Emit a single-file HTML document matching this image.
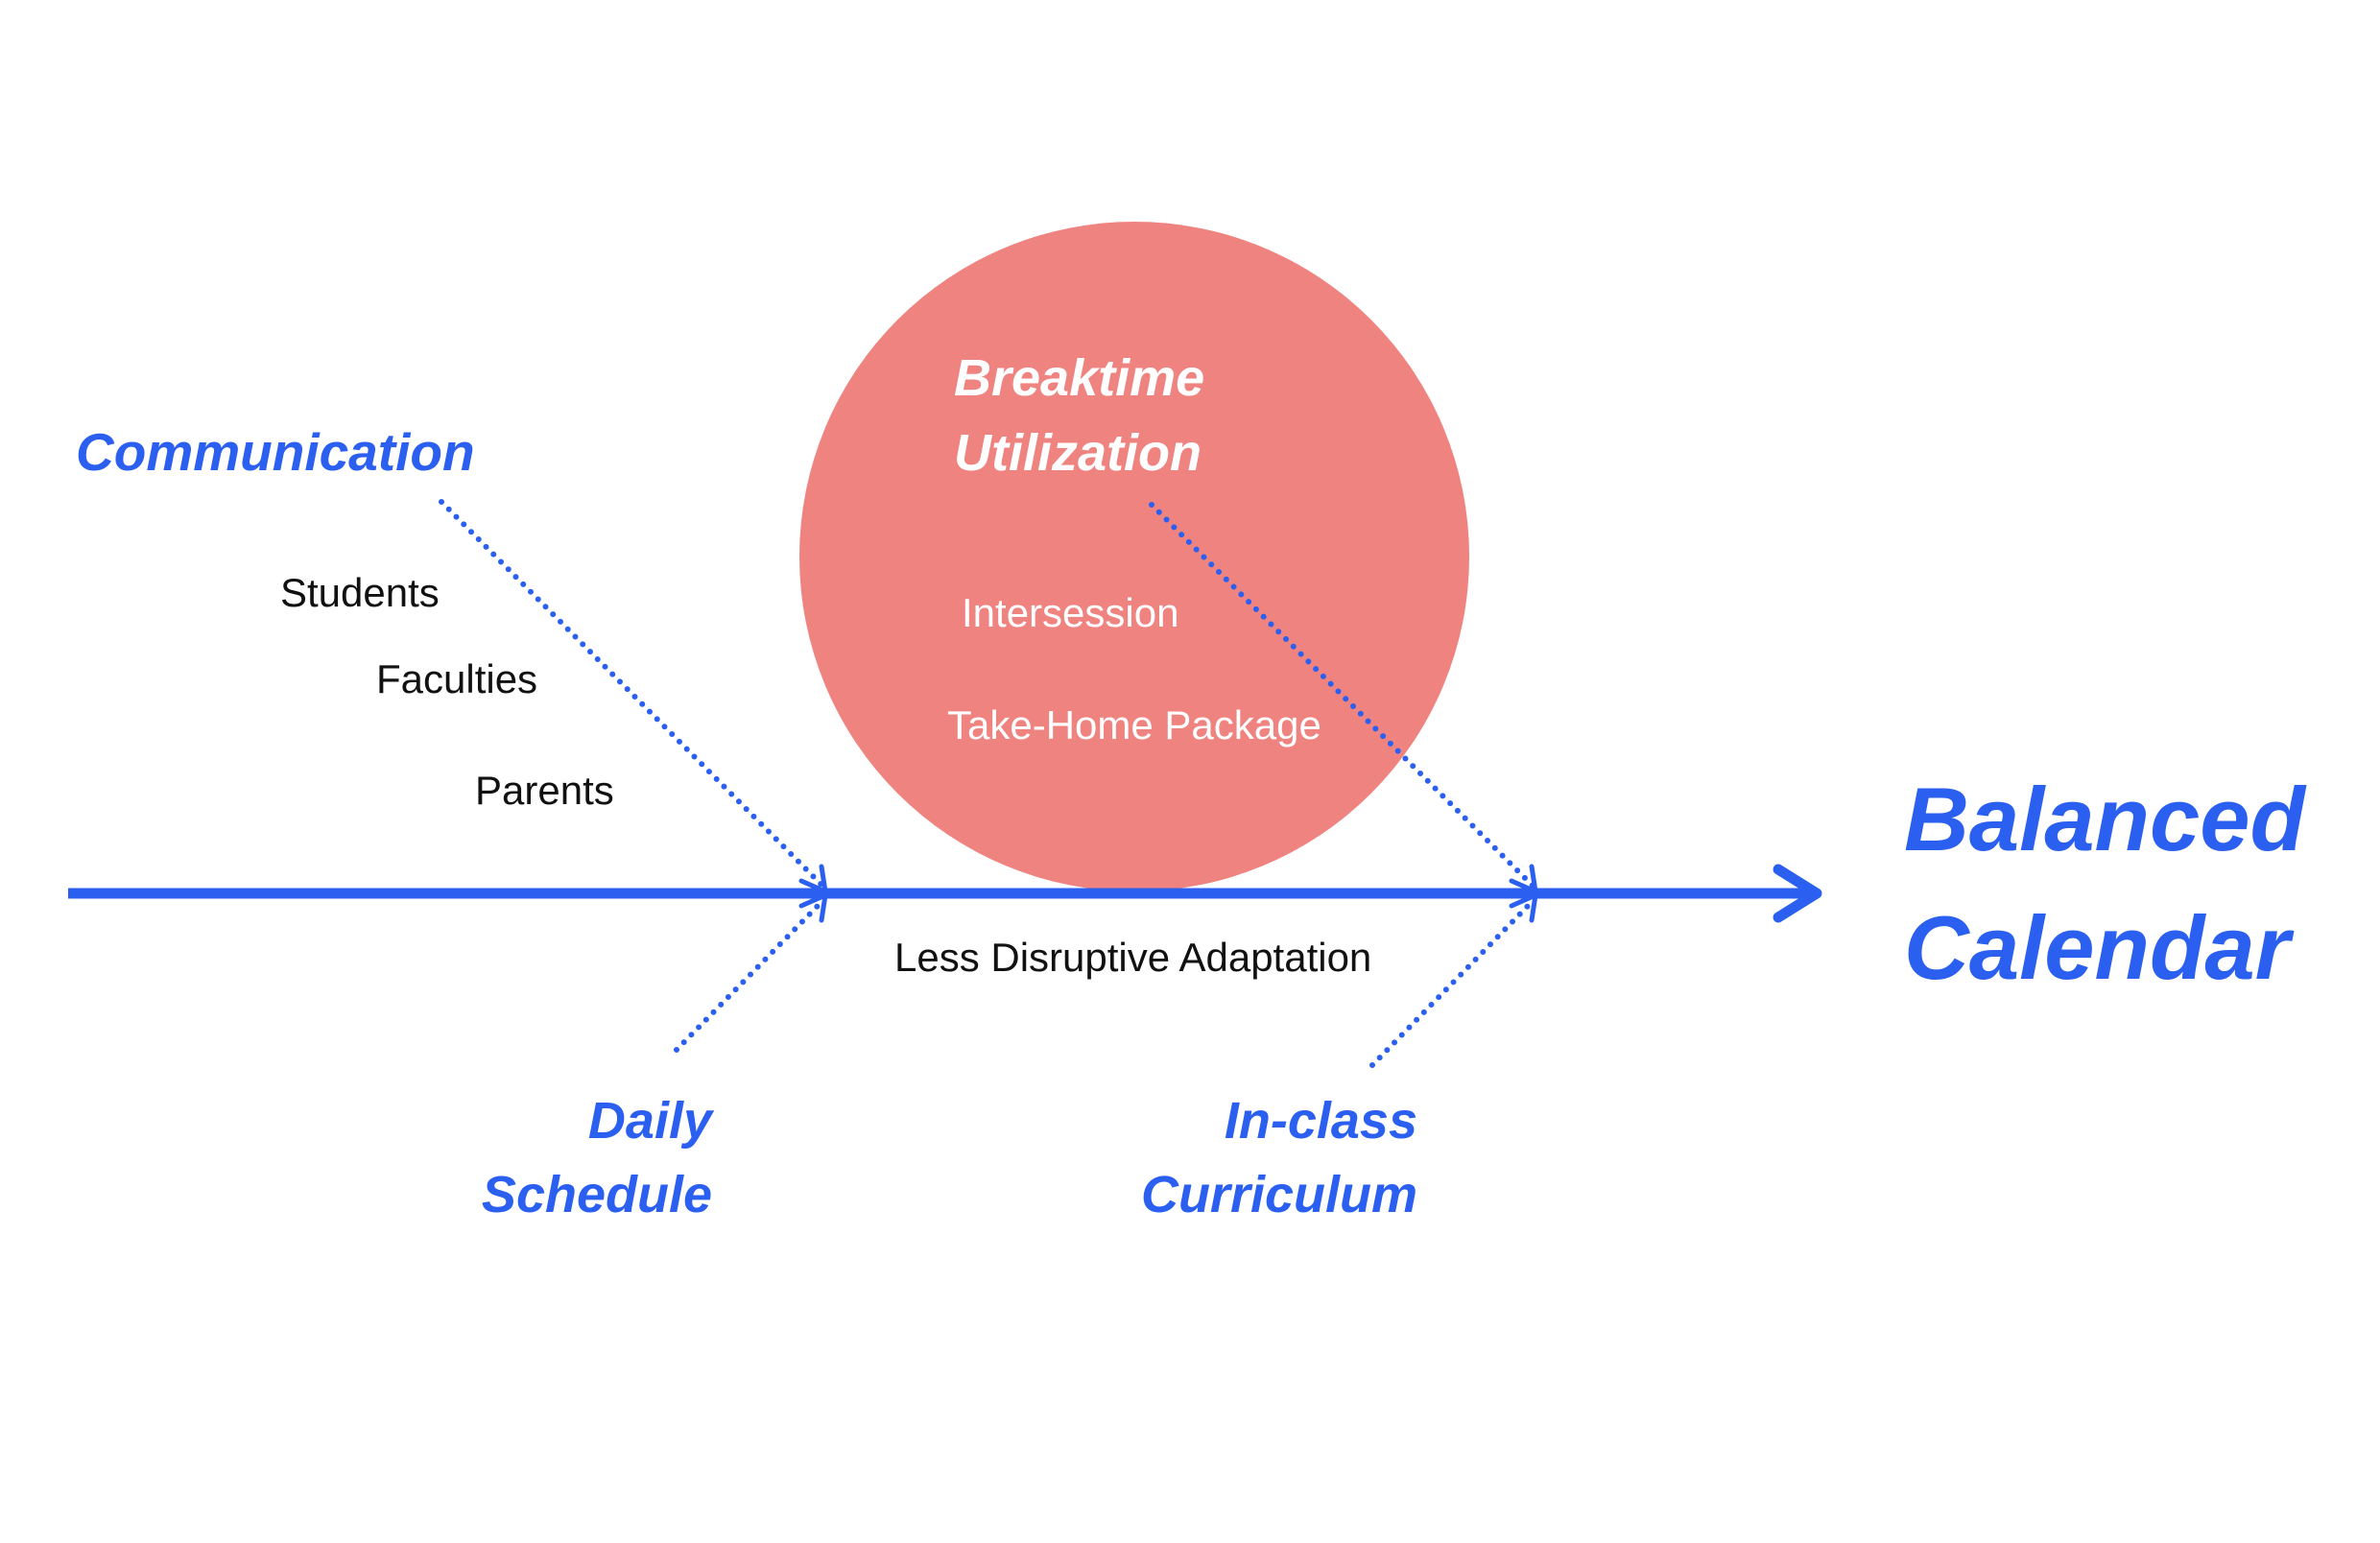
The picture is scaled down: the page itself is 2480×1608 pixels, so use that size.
<!DOCTYPE html>
<html><head><meta charset="utf-8"><style>
html,body{margin:0;padding:0;background:#fff;}
svg{display:block;}
.b{font-family:"Liberation Sans",sans-serif;font-weight:bold;font-style:italic;fill:#2b5ff0;}
.w{font-family:"Liberation Sans",sans-serif;font-weight:bold;font-style:italic;fill:#fff;}
.t{font-family:"Liberation Sans",sans-serif;font-size:42px;fill:#111;}
.tw{font-family:"Liberation Sans",sans-serif;font-size:42px;fill:#fff;}
</style></head><body>
<svg width="2480" height="1608" viewBox="0 0 2480 1608" xmlns="http://www.w3.org/2000/svg">
<rect width="2480" height="1608" fill="#fff"/>
<circle cx="1182" cy="580" r="349" fill="#ef8380"/>
<line x1="71" y1="931" x2="1890" y2="931" stroke="#2b5ff0" stroke-width="11"/>
<polyline points="1853,906 1893,931 1853,956" fill="none" stroke="#2b5ff0" stroke-width="11" stroke-linecap="round" stroke-linejoin="round"/>
<g stroke="#2b5ff0" stroke-width="6" stroke-linecap="round" fill="none">
<line x1="460" y1="523" x2="858" y2="924" stroke-dasharray="0 11"/>
<line x1="705" y1="1094" x2="858" y2="938" stroke-dasharray="0 11"/>
<line x1="1200" y1="526" x2="1598" y2="924" stroke-dasharray="0 11"/>
<line x1="1430" y1="1110" x2="1598" y2="938" stroke-dasharray="0 11"/>
</g>
<g stroke="#2b5ff0" stroke-width="5" stroke-linecap="round" fill="none">
<polyline points="835,918 860,929 856,903"/>
<polyline points="835,944 860,933 856,959"/>
<polyline points="1575,918 1600,929 1596,903"/>
<polyline points="1575,944 1600,933 1596,959"/>
</g>
<text class="b" x="79" y="490" font-size="55">Communication</text>
<text class="t" x="292" y="632">Students</text>
<text class="t" x="392" y="722">Faculties</text>
<text class="t" x="495" y="838">Parents</text>
<text class="w" x="994" y="412" font-size="54">Breaktime</text>
<text class="w" x="994" y="490" font-size="54">Utilization</text>
<text class="tw" x="1002" y="653">Intersession</text>
<text class="tw" x="987" y="770">Take-Home Package</text>
<text class="t" x="932" y="1012">Less Disruptive Adaptation</text>
<text class="b" x="742" y="1186" font-size="54" text-anchor="end">Daily</text>
<text class="b" x="742" y="1263" font-size="54" text-anchor="end">Schedule</text>
<text class="b" x="1477" y="1186" font-size="54" text-anchor="end">In-class</text>
<text class="b" x="1477" y="1263" font-size="54" text-anchor="end">Curriculum</text>
<text class="b" x="1984" y="886" font-size="94">Balanced</text>
<text class="b" x="1984" y="1020" font-size="94">Calendar</text>
</svg>
</body></html>
